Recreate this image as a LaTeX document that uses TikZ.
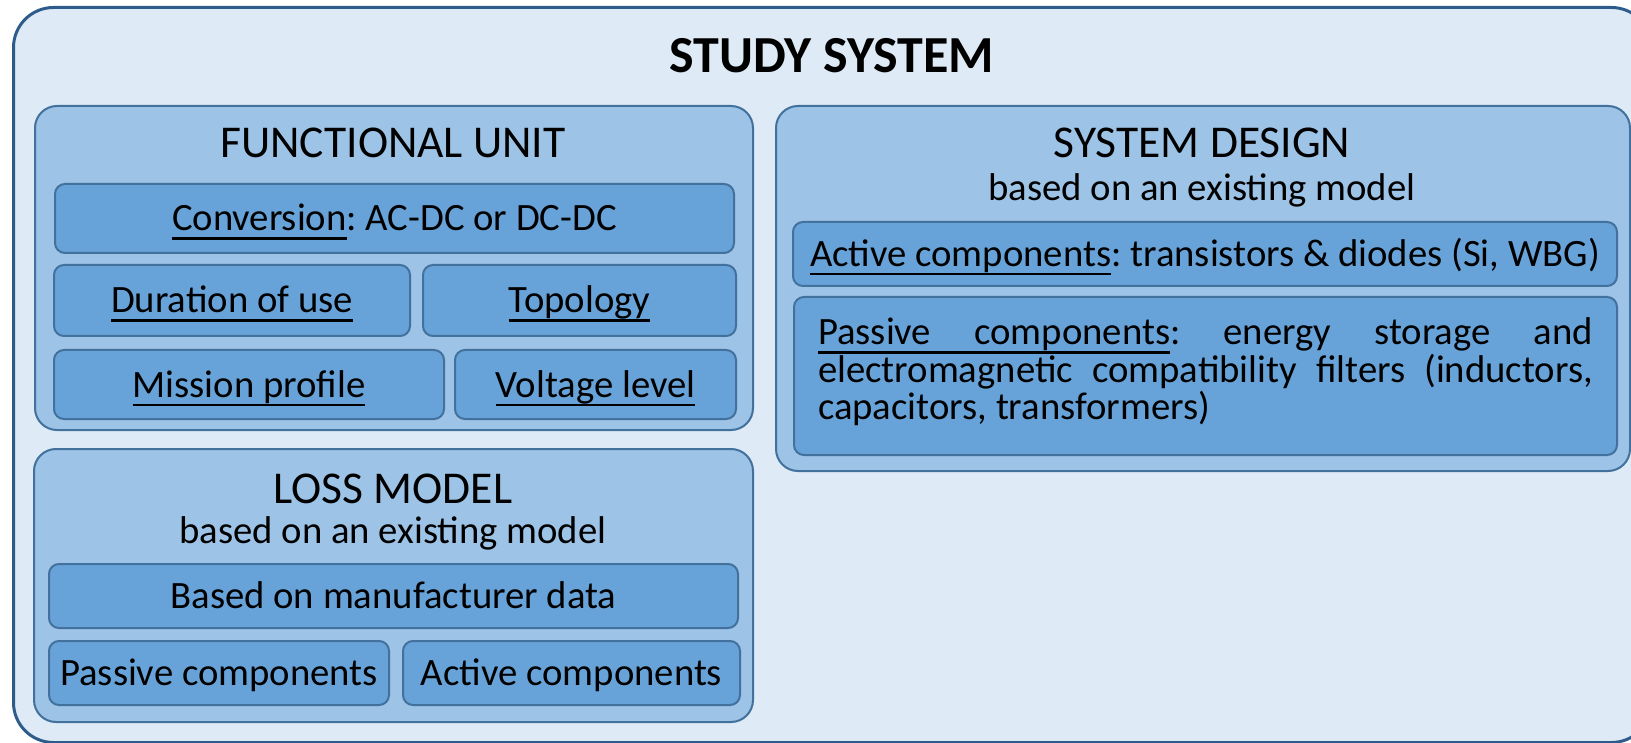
\documentclass[tikz,border=0pt]{standalone}
\usepackage{fontspec}
\setmainfont{Carlito}
\usetikzlibrary{positioning}
\definecolor{paleblue}{HTML}{DEEAF6}
\definecolor{midblue}{HTML}{9DC3E6}
\definecolor{cellblue}{HTML}{67A3D8}
\definecolor{edgeblue}{HTML}{41719C}
\definecolor{navyblue}{HTML}{2E5C8A}
% underlined word, and an underlined space that stretches with the line
\newcommand{\uword}[1]{\leavevmode\setbox0\hbox{#1}\rlap{\rule[-8.9pt]{\wd0}{2.4pt}}\box0}
\newcommand{\uspace}{\leaders\hrule height -6.5pt depth 8.9pt\hskip\fontdimen2\font plus \fontdimen3\font minus \fontdimen4\font}

\begin{document}
% no hyphens, loose justified lines
\frenchspacing
\hyphenpenalty=10000 \exhyphenpenalty=10000 \tolerance=10000 \lineskiplimit=-100pt
\begin{tikzpicture}[%
    x=1pt, y=-1pt,              % one unit per pixel, y going down
    node distance=11pt,         % gap between neighbouring cells
    ]

\tikzset{
    base/.style={draw=edgeblue, line width=2pt, align=center, inner sep=0pt, anchor=north west},
    study/.style={base, draw=navyblue, line width=3pt, fill=paleblue, rounded corners=40pt},
    group/.style={base, fill=midblue, rounded corners=22pt},
    cell/.style={base, fill=cellblue, rounded corners=10pt, font=\fontsize{38.7}{40}\selectfont,
        text height=34.7pt, text depth=9.7pt},
    longcell/.style={base, fill=cellblue, rounded corners=10pt, align=justify,
        font=\fontsize{38.7}{37.5}\selectfont},
    % titles of the boxes
    title/.style={anchor=base, font=\fontsize{52}{56}\selectfont\bfseries},
    head/.style={anchor=base, font=\fontsize{45.5}{48}\selectfont},
    subhead/.style={anchor=base, font=\fontsize{38.7}{40}\selectfont}
}

\useasboundingbox (0,0) rectangle (1631,743);

%% Study system
\node [study, minimum width=1638pt, minimum height=735pt] (study) at (12,6) {};
\node [title] (studyhead) at (832,73) {STUDY SYSTEM};

%% Functional unit
\node [group, minimum width=718pt, minimum height=324pt] (fu) at (34,105) {};
\node [head] (fuhead) at (393,158) {FUNCTIONAL UNIT};
\node [cell, minimum width=679pt, minimum height=69pt] (conv) at (54,183) {\uword{Conversion}: AC-DC or DC-DC};
\node [cell, minimum width=356pt, minimum height=71pt] (dur) at (53,264) {\uword{Duration of use}};
    \node [cell, minimum width=313pt, minimum height=71pt, right=11pt of dur] (topo) {\uword{Topology}};
\node [cell, minimum width=390pt, minimum height=69pt] (mission) at (53,349) {\uword{Mission profile}};
    \node [cell, minimum width=281pt, minimum height=69pt, right=9pt of mission] (volt) {\uword{Voltage level}};

%% Loss model
\node [group, minimum width=719pt, minimum height=273pt] (loss) at (33,448) {};
\node [head] (losshead) at (393,503) {LOSS MODEL};
\node [subhead] (losssub) at (393,543) {based on an existing model};
\node [cell, minimum width=689pt, minimum height=64pt] (manuf) at (48,563) {Based on manufacturer data};
\node [cell, minimum width=340pt, minimum height=64pt] (lpass) at (48,640) {Passive components};
    \node [cell, minimum width=337pt, minimum height=64pt, right=12pt of lpass] (lact) {Active components};

%% System design
\node [group, minimum width=854pt, minimum height=365pt] (sd) at (775,105) {};
\node [head] (sdhead) at (1202,158) {SYSTEM DESIGN};
\node [subhead] (sdsub) at (1202,201) {based on an existing model};
\node [cell, minimum width=824pt, minimum height=64pt] (sdact) at (792,221)
    {\uword{Active components}: transistors \& diodes (Si, WBG)};
\node [longcell, minimum width=823pt, minimum height=158pt, text width=775pt,
    text height=27.5pt, text depth=90pt] (sdpass) at (793,296)
    {\uword{Passive}\uspace\uword{components}: energy storage and electromagnetic compatibility filters (inductors, capacitors, transformers)};
\end{tikzpicture}
\end{document}
